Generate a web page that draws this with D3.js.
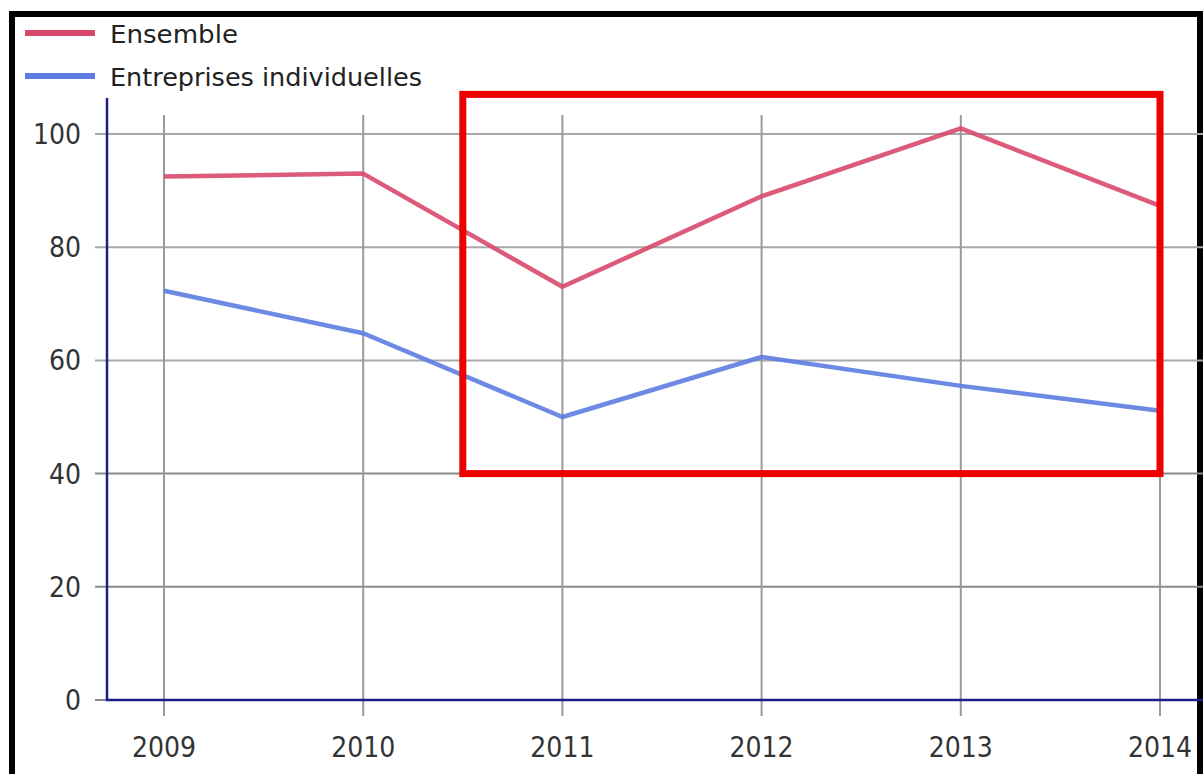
<!DOCTYPE html>
<html><head><meta charset="utf-8">
<script src="https://cdn.jsdelivr.net/npm/d3@7"></script>
<style>html,body{margin:0;padding:0;background:#fff;}svg{display:block;}</style>
</head><body>
<svg id="chart" width="1203" height="774"></svg>
<script>
const years = [2009, 2010, 2011, 2012, 2013, 2014];
const ensemble = [92.5, 93, 73, 89, 101, 87.3];
const entreprises = [72.3, 64.8, 50, 60.6, 55.5, 51.1];
const yTicks = [0, 20, 40, 60, 80, 100];
const seriesNames = ["Ensemble", "Entreprises individuelles"];
const seriesColors = ["#d8486b", "#5c7ce0"];
const highlight = {x0: 2010.5, x1: 2014, y0: 40, y1: 107};

const svg = d3.select("#chart");
const x = d3.scaleLinear().domain([2009, 2014]).range([164, 1160]);
const y = d3.scaleLinear().domain([0, 100]).range([700, 134]);
const font = "'DejaVu Sans Condensed', 'DejaVu Sans', sans-serif";

// frame
svg.append("path").attr("d", "M12,774 V14 H1200 V774")
  .attr("fill", "none").attr("stroke", "#000").attr("stroke-width", 6);

// horizontal grid
svg.append("g").selectAll("line").data(yTicks.filter(d => d > 0)).join("line")
  .attr("x1", 95).attr("x2", 1203)
  .attr("y1", d => y(d)).attr("y2", d => y(d))
  .attr("stroke", d => d >= 60 ? "#a8a8a8" : "#8a8a8a").attr("stroke-width", 2);
svg.append("line").attr("x1", 95).attr("x2", 107).attr("y1", y(0)).attr("y2", y(0))
  .attr("stroke", "#8a8a8a").attr("stroke-width", 2);

// vertical grid
svg.append("g").selectAll("line").data(years).join("line")
  .attr("x1", d => x(d)).attr("x2", d => x(d))
  .attr("y1", 115).attr("y2", 716)
  .attr("stroke", "#9a9a9a").attr("stroke-width", 2);

// axes
svg.append("line").attr("x1", 107).attr("x2", 107).attr("y1", 98).attr("y2", 701)
  .attr("stroke", "#1c1c8a").attr("stroke-width", 2.5);
svg.append("line").attr("x1", 106).attr("x2", 1203).attr("y1", y(0)).attr("y2", y(0))
  .attr("stroke", "#1c1c8a").attr("stroke-width", 2.5);

// y labels
svg.append("g").selectAll("text").data(yTicks).join("text")
  .attr("x", 81).attr("y", d => y(d) + 10)
  .attr("text-anchor", "end").attr("font-family", font).attr("font-size", 28)
  .attr("fill", "#333").text(d => d);
// x labels
svg.append("g").selectAll("text").data(years).join("text")
  .attr("x", d => x(d)).attr("y", 757)
  .attr("text-anchor", "middle").attr("font-family", font).attr("font-size", 28)
  .attr("fill", "#333").text(d => d);

// lines
const line = d3.line().x(d => x(d[0])).y(d => y(d[1]));
[ensemble, entreprises].forEach((vals, i) => {
  svg.append("path").datum(years.map((yr, j) => [yr, vals[j]]))
    .attr("d", line).attr("fill", "none")
    .attr("stroke", seriesColors[i]).attr("stroke-width", 4.5)
    .attr("stroke-linejoin", "round").attr("stroke-opacity", 0.9);
});

// legend
const lg = svg.append("g");
seriesNames.forEach((n, i) => {
  const ly = 33 + i * 43;
  lg.append("line").attr("x1", 25).attr("x2", 95).attr("y1", ly).attr("y2", ly)
    .attr("stroke", seriesColors[i]).attr("stroke-width", 6);
  lg.append("text").attr("x", 110).attr("y", ly + 10).attr("font-family", font)
    .attr("font-size", 25).attr("fill", "#222")
    .attr("textLength", i === 0 ? 128 : 312).attr("lengthAdjust", "spacingAndGlyphs")
    .text(n);
});

// highlight rectangle
svg.append("rect")
  .attr("x", x(highlight.x0)).attr("y", y(highlight.y1))
  .attr("width", x(highlight.x1) - x(highlight.x0))
  .attr("height", y(highlight.y0) - y(highlight.y1))
  .attr("fill", "none").attr("stroke", "#ee0000").attr("stroke-width", 7);
</script>
</body></html>
